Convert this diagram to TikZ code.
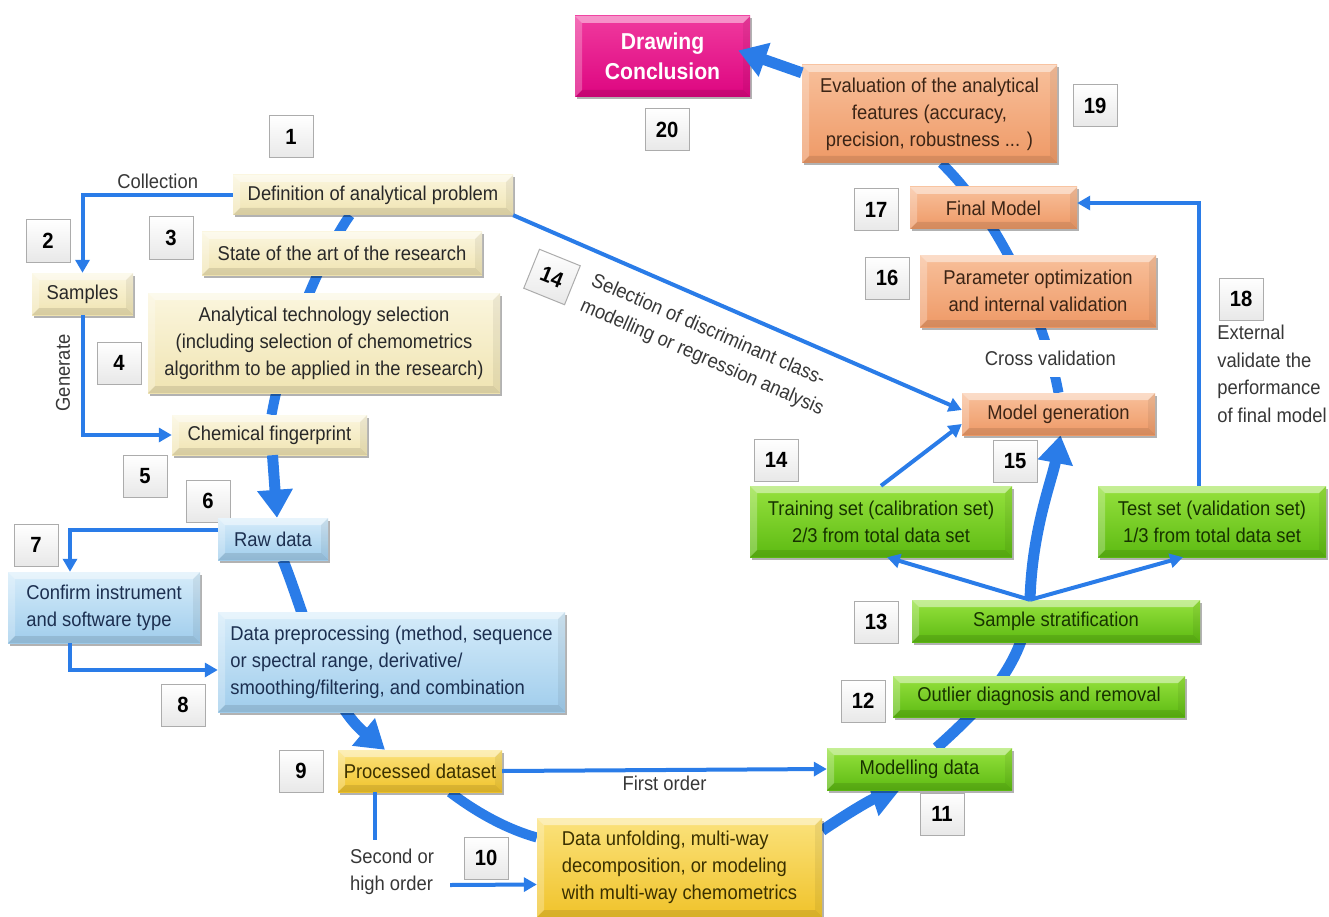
\documentclass[tikz,border=0pt]{standalone}
\usepackage{fontspec}
\setmainfont{Liberation Sans}[FakeStretch=0.92]
\usetikzlibrary{shapes.geometric, arrows.meta, positioning, calc, shadows}

\definecolor{flowblue}{RGB}{42,124,232}
\definecolor{noteink}{RGB}{55,55,55}

\pgfdeclarelayer{background}
\pgfsetlayers{background,main}

\tikzset{
    bevel/.style={path picture={
        \coordinate (bvnw) at (path picture bounding box.north west);
        \coordinate (bvne) at (path picture bounding box.north east);
        \coordinate (bvsw) at (path picture bounding box.south west);
        \coordinate (bvse) at (path picture bounding box.south east);
        \fill[white, opacity=0.45] (bvnw) -- (bvne) -- ([xshift=-7pt,yshift=-7pt]bvne) -- ([xshift=7pt,yshift=-7pt]bvnw) -- cycle;
        \fill[white, opacity=0.25] (bvnw) -- ([xshift=7pt,yshift=-7pt]bvnw) -- ([xshift=7pt,yshift=7pt]bvsw) -- (bvsw) -- cycle;
        \fill[black, opacity=0.10] (bvsw) -- (bvse) -- ([xshift=-7pt,yshift=7pt]bvse) -- ([xshift=7pt,yshift=7pt]bvsw) -- cycle;
        \fill[black, opacity=0.06] (bvne) -- (bvse) -- ([xshift=-7pt,yshift=7pt]bvse) -- ([xshift=-7pt,yshift=-7pt]bvne) -- cycle;
    }}
}

\begin{document}
\begin{tikzpicture}[
    x=1pt, y=-1pt,
    stage/.style={rectangle, draw=none, align=center, inner sep=3pt, bevel,
        font=\fontsize{20}{27}\selectfont,
        drop shadow={shadow xshift=2pt, shadow yshift=-2.5pt, opacity=0.3, fill=black}},
    probbox/.style={stage, top color={rgb,255:red,251;green,246;blue,222}, bottom color={rgb,255:red,240;green,228;blue,178}, text={rgb,255:red,40;green,40;blue,40}},
    rawbox/.style={stage, top color={rgb,255:red,214;green,236;blue,250}, bottom color={rgb,255:red,160;green,205;blue,236}, text={rgb,255:red,28;green,47;blue,80}},
    setbox/.style={stage, top color={rgb,255:red,251;green,226;blue,124}, bottom color={rgb,255:red,240;green,195;blue,43}, text={rgb,255:red,58;green,48;blue,0}},
    modelbox/.style={stage, top color={rgb,255:red,150;green,226;blue,62}, bottom color={rgb,255:red,93;green,186;blue,18}, text={rgb,255:red,23;green,51;blue,0}},
    evalbox/.style={stage, top color={rgb,255:red,248;green,192;blue,155}, bottom color={rgb,255:red,238;green,153;blue,102}, text={rgb,255:red,59;green,36;blue,21}},
    endbox/.style={stage, top color={rgb,255:red,240;green,58;blue,158}, bottom color={rgb,255:red,221;green,5;blue,128}, text=white, font=\fontsize{23}{30}\selectfont\bfseries},
    numbox/.style={rectangle, draw=gray!65, line width=1pt, top color=white, bottom color=gray!18,
        minimum width=44, minimum height=42, inner xsep=5pt, font=\fontsize{22}{24}\selectfont\bfseries},
    note/.style={font=\fontsize{20}{27.5}\selectfont, text=noteink, inner sep=2pt},
    flow/.style={draw=flowblue, line width=4pt, -{Triangle[length=13pt,width=14pt]}},
    flowline/.style={draw=flowblue, line width=4pt},
    bigflow/.style={draw=flowblue, line width=11pt, -{Triangle[length=28pt,width=34pt]}},
    bigline/.style={draw=flowblue, line width=10pt}
]
\useasboundingbox (0,0) rectangle (1329,917);

% step numbers
\node[numbox] (num1) at (291,137) {1};
\node[numbox] (num2) at (48,241) {2};
\node[numbox] (num3) at (171,238) {3};
\node[numbox] (num4) at (119,363) {4};
\node[numbox] (num5) at (145,476) {5};
\node[numbox] (num6) at (208,501) {6};
\node[numbox] (num7) at (36,545) {7};
\node[numbox] (num8) at (183,705) {8};
\node[numbox] (num9) at (301,771) {9};
\node[numbox] (num10) at (486,858) {10};
\node[numbox] (num11) at (942,814) {11};
\node[numbox] (num12) at (863,701) {12};
\node[numbox] (num13) at (876,622) {13};
\node[numbox] (num14) at (776,460) {14};
\node[numbox, rotate=-22] (num14b) at (552,277) {14};
\node[numbox] (num15) at (1015,461) {15};
\node[numbox] (num16) at (887,278) {16};
\node[numbox] (num17) at (876,210) {17};
\node[numbox] (num18) at (1241,299) {18};
\node[numbox] (num19) at (1095,106) {19};
\node[numbox] (num20) at (667,130) {20};

% problem and sampling
\node[probbox, minimum width=280, minimum height=40] (define) at (373,195) {Definition of analytical problem};
\node[probbox, minimum width=280, minimum height=43] (stateart) at (342,253.5) {State of the art of the research};
\node[probbox, minimum width=101, minimum height=42] (samples) at (82.5,294) {Samples};
\node[probbox, minimum width=352, minimum height=100] (techsel) at (324,343) {Analytical technology selection\\(including selection of chemometrics\\algorithm to be applied in the research)};
\node[probbox, minimum width=195, minimum height=40] (fingerprint) at (269.5,435) {Chemical fingerprint};

% raw data handling
\node[rawbox, minimum width=110, minimum height=42, align=left] (rawdata) at (273,539) {Raw data};
\node[rawbox, minimum width=192, minimum height=71, align=left] (confirm) at (104,607.5) {Confirm instrument\\and software type};
\node[rawbox, minimum width=347, minimum height=100, align=left] (preproc) at (391.5,662) {Data preprocessing (method, sequence\\or spectral range, derivative/\\smoothing/filtering, and combination};
\node[setbox, minimum width=164, minimum height=42] (processed) at (420,771) {Processed dataset};
\node[setbox, minimum width=285, minimum height=99, align=left] (unfold) at (679.5,867.5) {Data unfolding, multi-way\\decomposition, or modeling\\with multi-way chemometrics};

% modelling
\node[modelbox, minimum width=185, minimum height=42] (modelling) at (919.5,769) {Modelling data};
\node[modelbox, minimum width=292, minimum height=41] (outlier) at (1039,696.5) {Outlier diagnosis and removal};
\node[modelbox, minimum width=288, minimum height=42] (stratify) at (1056,621) {Sample stratification};
\node[modelbox, minimum width=262, minimum height=71] (training) at (881,521.5) {Training set (calibration set)\\2/3 from total data set};
\node[modelbox, minimum width=228, minimum height=71] (testset) at (1212,521.5) {Test set (validation set)\\1/3 from total data set};

% evaluation
\node[evalbox, minimum width=193, minimum height=42] (modelgen) at (1058.5,414) {Model generation};
\node[evalbox, minimum width=236, minimum height=72] (paramopt) at (1038,291) {Parameter optimization\\and internal validation};
\node[evalbox, minimum width=167, minimum height=42] (finalmodel) at (993.5,208) {Final Model};
\node[evalbox, minimum width=255, minimum height=98] (evaluate) at (929.5,114) {Evaluation of the analytical\\features (accuracy,\\precision, robustness ... )};
\node[endbox, minimum width=175, minimum height=81] (conclude) at (662.5,56.5) {Drawing\\Conclusion};

% free labels
\node[note, rotate=90] (genlabel) at (63,373) {Generate};
\node[note, align=left] (secondlabel) at (392,872) {Second or\\high order};
\node[note, align=left] (extlabel) at (1272,374) {External\\validate the\\performance\\of final model};
\coordinate (secondstub) at (375,840);

% main chain, behind the boxes
\begin{pgfonlayer}{background}
\draw[bigline] ([xshift=-23pt]define.south) .. controls (325,250) and (285,340) .. ([xshift=2pt]fingerprint.north);
\draw[bigflow] ([xshift=10pt]rawdata.south) .. controls (305,615) and (325,700) .. ([xshift=-35pt]processed.north);
\draw[bigline] ([xshift=30pt]processed.south) .. controls (480,815) and (510,830) .. ([yshift=30pt]unfold.west);
\draw[bigflow] ([yshift=37pt]unfold.east) .. controls (845,815) and (870,800) .. ([xshift=-20pt]modelling.south);
\draw[bigflow] ([xshift=17pt]modelling.north) .. controls (990,700) and (1025,660) .. ([xshift=-26pt]stratify.north)
    .. controls (1032,530) and (1052,480) .. ([xshift=2pt]modelgen.south);
\draw[bigline] (modelgen.north) .. controls (1045,320) and (1000,220) ..
    node[note, fill=white, pos=0.15, inner ysep=11pt] (crossval) {Cross validation} ([xshift=12pt]evaluate.south);
\end{pgfonlayer}

\draw[bigflow] ([xshift=3pt]fingerprint.south) -- ([xshift=4pt]rawdata.north);
\draw[bigflow] ([yshift=-8pt]evaluate.north west) -- ([xshift=-12pt,yshift=6pt]conclude.east);

% side branches
\draw[flow] (define.west) -| node[note, pos=0.25, above=2pt] (collectlabel) {Collection} (samples.north);
\draw[flow] (samples.south) |- (fingerprint.west);
\draw[flow] ([yshift=9pt]rawdata.west) -| ([xshift=-34pt]confirm.north);
\draw[flow] ([xshift=-34pt]confirm.south) |- ([yshift=-8pt]preproc.west);
\draw[flow] (processed.east) -- node[note, below=2pt] (firstlabel) {First order} (modelling.west);
\draw[flowline] ([xshift=-45pt]processed.south) -- (secondstub);
\draw[flow] ([xshift=14pt,yshift=-13pt]secondlabel.east) -- ([yshift=-17pt]unfold.west);
\draw[flow] (define.south east) -- node[note, sloped, below=15pt, pos=0.47, align=left] (selectlabel)
    {Selection of discriminant class-\\modelling or regression analysis} ([yshift=4pt]modelgen.west);
\draw[flow] ([xshift=-26pt]stratify.north) -- ([xshift=6pt]training.south);
\draw[flow] ([xshift=-26pt]stratify.north) -- ([xshift=-29pt]testset.south);
\draw[flow] (training.north) -- ([yshift=-10pt]modelgen.west);
\draw[flow] ([xshift=-13pt]testset.north) |- ([yshift=5pt]finalmodel.east);

\end{tikzpicture}
\end{document}
